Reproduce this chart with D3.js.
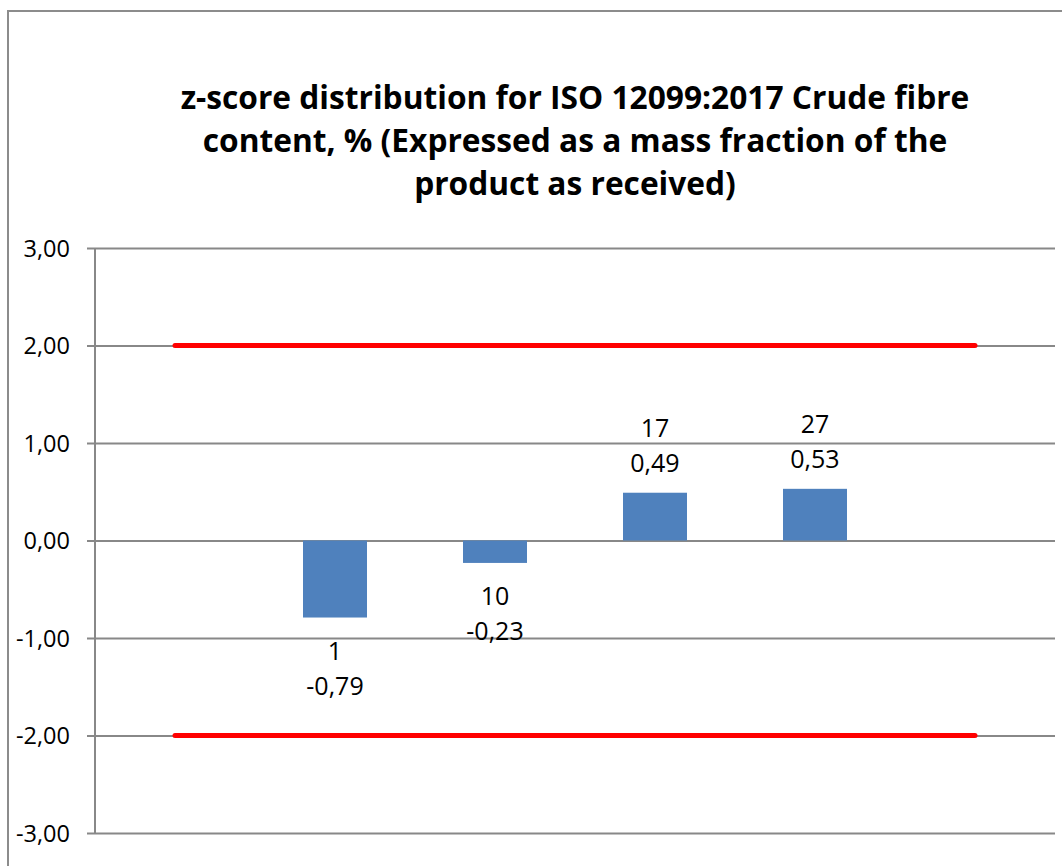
<!DOCTYPE html>
<html>
<head>
<meta charset="utf-8">
<script src="https://cdn.jsdelivr.net/npm/d3@7"></script>
<style>
  html, body { margin: 0; padding: 0; background: #fff; }
  svg { display: block; }
  text { font-family: "Open Sans", "DejaVu Sans", sans-serif; fill: #000; }
</style>
</head>
<body>
<svg id="chart" width="1062" height="866"></svg>
<script>
// ---- data ----
const categories = ["c0", "c1", "c2", "c3", "c4", "c5"];
const labCodes = ["", "1", "10", "17", "27", ""];
const zScores = [null, -0.79, -0.23, 0.49, 0.53, null];
const upperLimit = [2, 2, 2, 2, 2, 2];
const lowerLimit = [-2, -2, -2, -2, -2, -2];
const yTicks = [-3, -2, -1, 0, 1, 2, 3];
const titleLines = [
  "z-score distribution for ISO 12099:2017 Crude fibre",
  "content, % (Expressed as a mass fraction of the",
  "product as received)"
];

const svg = d3.select("#chart");
const W = 1062, H = 866;
const plot = { left: 95, right: 1055, top: 248, bottom: 833 };

// number format with comma decimal and ASCII hyphen minus
const fmt = v => d3.format(".2f")(v).replace(".", ",").replace("\u2212", "-");

// outer border (extends past right/bottom edge as in the reference)
svg.append("rect")
  .attr("x", 8).attr("y", 11)
  .attr("width", W + 10).attr("height", H + 10)
  .attr("fill", "none").attr("stroke", "#8c8c8c").attr("stroke-width", 2);

// title
const title = svg.append("g");
const titleBaselines = [109, 152, 195];
titleLines.forEach((t, i) => {
  title.append("text")
    .attr("x", 575).attr("y", titleBaselines[i])
    .attr("text-anchor", "middle")
    .attr("font-weight", "bold")
    .attr("font-size", 26)
    .text(t);
});
// fit title size to the reference width of the first line
const firstLen = title.select("text").node().getComputedTextLength();
const fs = 26 * 789 / firstLen;
title.selectAll("text").attr("font-size", fs);

// scales
const x = d3.scaleBand().domain(categories).range([plot.left, plot.right]).padding(0);
const y = d3.scaleLinear().domain([-3, 3]).range([plot.bottom, plot.top]);
const barW = x.bandwidth() * 0.4;
const cx = c => x(c) + x.bandwidth() / 2;

// gridlines + y axis
const yAxis = d3.axisLeft(y)
  .tickValues(yTicks)
  .tickSize(-(plot.right - plot.left))
  .tickPadding(0)
  .tickFormat(fmt);
const ga = svg.append("g").attr("transform", `translate(${plot.left},0)`).call(yAxis);
ga.select(".domain").remove();
ga.selectAll(".tick line")
  .attr("x1", -8)
  .attr("stroke", "#888").attr("stroke-width", 2);
ga.selectAll(".tick text")
  .attr("x", -25).attr("dy", "0.36em")
  .attr("font-size", 23.5)
  .attr("fill", "#000");
svg.append("line")
  .attr("x1", plot.left).attr("x2", plot.left)
  .attr("y1", plot.top).attr("y2", plot.bottom)
  .attr("stroke", "#888").attr("stroke-width", 2);

// bars
const barData = categories.map((c, i) => ({ c, v: zScores[i], code: labCodes[i] }))
  .filter(d => d.v !== null);
svg.append("g").selectAll("rect").data(barData).join("rect")
  .attr("x", d => cx(d.c) - barW / 2)
  .attr("width", barW)
  .attr("y", d => y(Math.max(0, d.v)))
  .attr("height", d => Math.abs(y(d.v) - y(0)))
  .attr("fill", "#4F81BD");

// limit lines
const line = d3.line().x((d, i) => cx(categories[i])).y(d => y(d));
[upperLimit, lowerLimit].forEach(arr => {
  svg.append("path")
    .attr("d", line(arr))
    .attr("fill", "none")
    .attr("stroke", "#FF0000")
    .attr("stroke-width", 5)
    .attr("stroke-linecap", "round");
});

// data labels
const lab = svg.append("g");
barData.forEach(d => {
  const g = lab.append("text").attr("text-anchor", "middle").attr("font-size", 25);
  if (d.v >= 0) {
    const top = y(d.v);
    g.append("tspan").attr("x", cx(d.c)).attr("y", top - 56).text(d.code);
    g.append("tspan").attr("x", cx(d.c)).attr("y", top - 21).text(fmt(d.v));
  } else {
    const bot = y(d.v);
    g.append("tspan").attr("x", cx(d.c)).attr("y", bot + 42).text(d.code);
    g.append("tspan").attr("x", cx(d.c)).attr("y", bot + 77).text(fmt(d.v));
  }
});
</script>
</body>
</html>
